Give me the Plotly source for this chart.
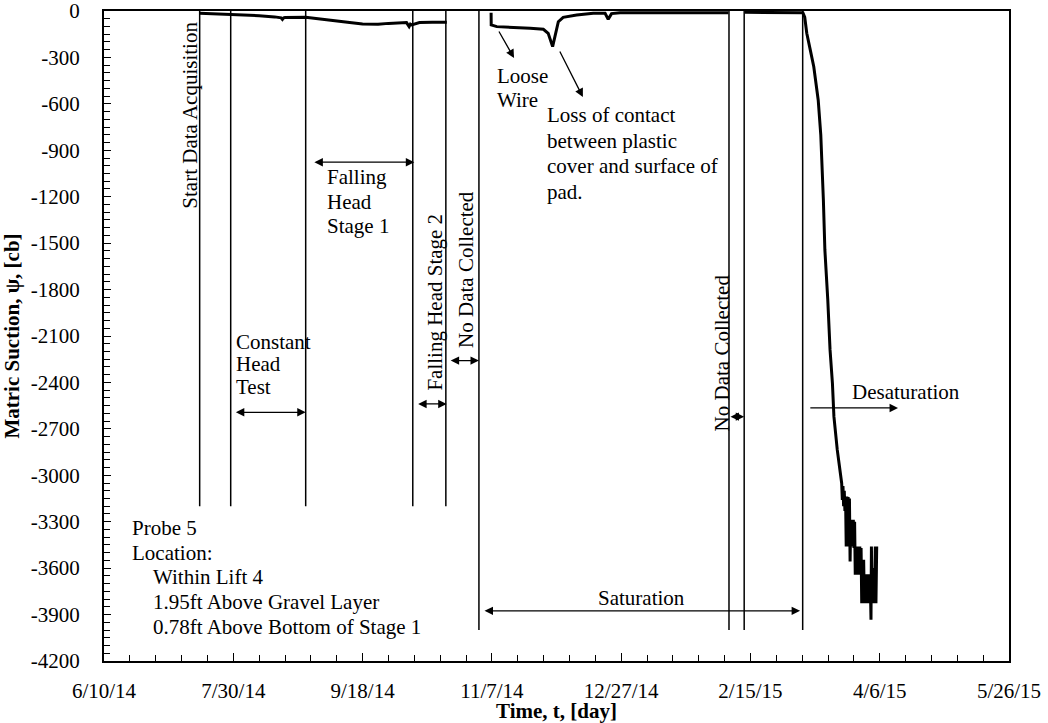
import plotly.graph_objects as go

FONT = "Liberation Serif, Times New Roman, serif"

# ---- Probe 5 matric suction record, cb ----
# Stage 1 permeameter run
run1_time = [
    "2014-07-17 00:00", "2014-07-23 00:00", "2014-07-28 00:00", "2014-08-04 00:00",
    "2014-08-09 00:00", "2014-08-15 00:00", "2014-08-17 12:00", "2014-08-18 00:00",
    "2014-08-18 12:00", "2014-08-19 00:00", "2014-08-24 00:00", "2014-08-27 00:00",
    "2014-08-31 00:00", "2014-09-06 00:00", "2014-09-13 00:00", "2014-09-18 00:00",
    "2014-09-24 00:00", "2014-09-28 00:00", "2014-10-03 00:00", "2014-10-05 00:00",
    "2014-10-06 00:00", "2014-10-06 12:00", "2014-10-07 00:00", "2014-10-10 00:00",
    "2014-10-15 00:00", "2014-10-20 14:00",
]
run1_suction = [
    -15, -18, -22, -25,
    -30, -38, -44, -54,
    -44, -42, -42, -41,
    -48, -62, -75, -84,
    -86, -80, -78, -75,
    -101, -85, -90, -75,
    -72, -73,
]

# Saturation period (before the February outage)
run2_time = [
    "2014-11-06 17:00", "2014-11-06 18:00", "2014-11-08 22:00", "2014-11-15 07:00",
    "2014-11-21 19:00", "2014-11-26 22:00", "2014-11-28 19:00", "2014-11-30 12:00",
    "2014-12-01 10:00", "2014-12-02 17:00", "2014-12-04 14:00", "2014-12-09 19:00",
    "2014-12-16 05:00", "2014-12-20 19:00", "2014-12-22 00:00", "2014-12-23 07:00",
    "2014-12-26 14:00", "2015-01-10 00:00", "2015-01-25 00:00", "2015-02-06 12:00",
]
run2_suction = [
    -11, -90, -101, -105,
    -112, -118, -144, -230,
    -166, -69, -41, -26,
    -15, -15, -54, -17,
    -11, -10, -11, -12,
]

# End of saturation, then desaturation (readings scatter once past -3000 cb)
run3_time = [
    "2015-02-12 19:00", "2015-02-25 00:00", "2015-03-07 07:00", "2015-03-08 00:00",
    "2015-03-08 19:00", "2015-03-10 00:00", "2015-03-11 12:00", "2015-03-13 05:00",
    "2015-03-14 05:00", "2015-03-15 05:00", "2015-03-15 19:00", "2015-03-16 22:00",
    "2015-03-17 19:00", "2015-03-18 17:00", "2015-03-19 07:00", "2015-03-20 14:00",
    "2015-03-22 07:00", "2015-03-22 13:00", "2015-03-22 19:00",
    "2015-03-23 01:00", "2015-03-23 07:00", "2015-03-23 13:00", "2015-03-23 19:00",
    "2015-03-24 01:00", "2015-03-24 07:00", "2015-03-24 13:00", "2015-03-24 19:00",
    "2015-03-25 01:00", "2015-03-25 07:00", "2015-03-25 13:00", "2015-03-25 19:00",
    "2015-03-26 01:00", "2015-03-26 07:00", "2015-03-26 13:00", "2015-03-26 19:00",
    "2015-03-27 01:00", "2015-03-27 07:00", "2015-03-27 13:00", "2015-03-27 19:00",
    "2015-03-28 01:00", "2015-03-28 07:00", "2015-03-28 13:00", "2015-03-28 19:00",
    "2015-03-29 01:00", "2015-03-29 07:00", "2015-03-29 13:00", "2015-03-29 19:00",
    "2015-03-30 01:00", "2015-03-30 07:00", "2015-03-30 13:00", "2015-03-30 19:00",
    "2015-03-31 01:00", "2015-03-31 07:00", "2015-03-31 13:00", "2015-03-31 19:00",
    "2015-04-01 01:00", "2015-04-01 07:00", "2015-04-01 13:00", "2015-04-01 19:00",
    "2015-04-02 01:00", "2015-04-02 07:00", "2015-04-02 15:00", "2015-04-02 19:00",
    "2015-04-03 01:00", "2015-04-03 07:00", "2015-04-03 13:00", "2015-04-03 19:00",
    "2015-04-04 01:00", "2015-04-04 07:00", "2015-04-04 13:00", "2015-04-04 20:00",
]
run3_suction = [
    -8, -9, -12, -40,
    -144, -240, -360, -575,
    -800, -1220, -1544, -1867,
    -2190, -2405, -2621, -2836,
    -3051, -3160, -3070,
    -3200, -3100, -3230, -3137,
    -3460, -3137, -3460, -3140,
    -3460, -3150, -3557, -3288,
    -3460, -3288, -3460, -3288,
    -3470, -3300, -3643, -3460,
    -3643, -3460, -3643, -3460,
    -3643, -3460, -3643, -3470,
    -3826, -3546, -3826, -3546,
    -3826, -3640, -3826, -3640,
    -3826, -3640, -3826, -3640,
    -3826, -3640, -3934, -3460,
    -3826, -3600, -3826, -3600,
    -3826, -3460, -3826, -3460,
]

# Test-phase boundaries (vertical markers) and how far down each is drawn
event_time = [
    "2014-07-17 00:00", "2014-07-29 00:00", "2014-08-27 00:00", "2014-10-07 10:00",
    "2014-10-20 05:00", "2014-11-02 00:00", "2015-02-06 17:00", "2015-02-12 14:00",
    "2015-03-07 05:00",
]
event_bottom = [-3200, -3200, -3200, -3200, -3200, -4000, -4000, -4000, -4000]

# Axis ticks
x_tick_dates = ["2014-06-10", "2014-07-30", "2014-09-18", "2014-11-07",
                "2014-12-27", "2015-02-15", "2015-04-06", "2015-05-26"]
x_tick_labels = ["6/10/14", "7/30/14", "9/18/14", "11/7/14",
                 "12/27/14", "2/15/15", "4/6/15", "5/26/15"]
y_ticks = [0, -300, -600, -900, -1200, -1500, -1800, -2100,
           -2400, -2700, -3000, -3300, -3600, -3900, -4200]

fig = go.Figure()
for t, s in [(run1_time, run1_suction), (run2_time, run2_suction), (run3_time, run3_suction)]:
    fig.add_trace(go.Scatter(x=t, y=s, mode="lines",
                             line=dict(color="black", width=3),
                             showlegend=False, hoverinfo="skip"))

for t, b in zip(event_time, event_bottom):
    fig.add_shape(type="line", xref="x", yref="y", x0=t, x1=t, y0=0, y1=b,
                  line=dict(color="black", width=1.5))

tf = dict(family=FONT, size=21, color="black")
title_font = dict(family=FONT, size=21, color="black")
ann = []


def text(x, y, s, **kw):
    d = dict(x=x, y=y, xref="x", yref="y", text=s, showarrow=False, font=tf)
    d.update(kw)
    ann.append(d)


def stacked(x, y_top, lines, step):
    for i, s in enumerate(lines):
        text(x, y_top - i * step, s, xanchor="left", yanchor="middle")


def arrow(x0, y0, x1, y1, both=True):
    d = dict(x=x1, y=y1, ax=x0, ay=y0, xref="x", yref="y", axref="x", ayref="y",
             text="", showarrow=True, arrowhead=2, arrowsize=1.3, arrowwidth=1.3,
             arrowcolor="black", arrowside="end+start" if both else "end",
             startarrowhead=2, startarrowsize=1.3, standoff=0, startstandoff=0)
    ann.append(d)


# Rotated phase labels
text("2014-07-13 07:00", -676, "Start Data Acquisition", textangle=-90)
text("2014-10-16 00:00", -1878, "Falling Head Stage 2", textangle=-90)
text("2014-10-28 00:00", -1673, "No Data Collected", textangle=-90)
text("2015-02-04 00:00", -2206, "No Data Collected", textangle=-90)

# Horizontal labels
stacked("2014-09-03 12:00", -1070, ["Falling", "Head", "Stage 1"], 161)
stacked("2014-07-30 10:00", -2136, ["Constant", "Head", "Test"], 148)
stacked("2014-11-08 05:00", -420, ["Loose", "Wire"], 158)
stacked("2014-11-27 14:00", -672,
        ["Loss of contact", "between plastic", "cover and surface of", "pad."], 165)
nb = "\u00a0" * 4
stacked("2014-06-20 00:00", -3340,
        ["Probe 5", "Location:", nb + "Within Lift 4",
         nb + "1.95ft Above Gravel Layer", nb + "0.78ft Above Bottom of Stage 1"], 160)
text("2015-01-03 17:00", -3790, "Saturation")
text("2015-04-16 00:00", -2463, "Desaturation")

# Span arrows
arrow("2014-08-29 19:00", -977, "2014-10-08 00:00", -977)
arrow("2014-07-30 10:00", -2593, "2014-08-27 00:00", -2593)
arrow("2014-10-08 22:00", -2539, "2014-10-20 12:00", -2539)
arrow("2014-10-21 12:00", -2259, "2014-11-02 00:00", -2259)
arrow("2015-02-06 17:00", -2621, "2015-02-12 14:00", -2621)
arrow("2014-11-03 14:00", -3876, "2015-03-06 05:00", -3876)
arrow("2015-03-09 14:00", -2565, "2015-04-13 02:00", -2565, both=False)
# Pointer arrows
arrow("2014-11-09 10:00", -123, "2014-11-15 14:00", -304, both=False)
arrow("2014-12-03 00:00", -252, "2014-12-12 05:00", -556, both=False)

fig.update_layout(
    width=1048, height=723,
    margin=dict(l=104, r=39, t=11, b=62, autoexpand=False),
    paper_bgcolor="white", plot_bgcolor="white",
    font=tf,
    annotations=ann,
    xaxis=dict(
        type="date", range=["2014-06-10", "2015-05-26"], automargin=False,
        tickmode="array", tickvals=x_tick_dates, ticktext=x_tick_labels,
        ticks="inside", ticklen=8, tickwidth=1.3, tickcolor="black",
        showline=True, linecolor="black", linewidth=2, mirror=True,
        showgrid=False, zeroline=False, ticklabelstandoff=10,
        ticklabeloverflow="allow", tickfont=tf,
        minor=dict(tickmode="linear", tick0="2014-06-10", dtick=864000000,
                   ticks="inside", ticklen=6, tickwidth=1.2, tickcolor="black",
                   showgrid=False),
        title=dict(text="<b>Time, t, [day]</b>", font=title_font, standoff=2),
    ),
    yaxis=dict(
        range=[-4200, 0], automargin=False,
        tickmode="array", tickvals=y_ticks, ticktext=[str(v) for v in y_ticks],
        ticks="inside", ticklen=7, tickwidth=1.3, tickcolor="black",
        showline=True, linecolor="black", linewidth=2, mirror=True,
        showgrid=False, zeroline=False, ticklabelstandoff=18,
        ticklabeloverflow="allow", tickfont=tf,
        minor=dict(tickmode="linear", tick0=0, dtick=50,
                   ticks="inside", ticklen=6, tickwidth=1.2, tickcolor="black",
                   showgrid=False),
        title=dict(text="<b>Matric Suction, \u03c8, [cb]</b>", font=title_font, standoff=8),
    ),
)

fig.write_html("out.html")
